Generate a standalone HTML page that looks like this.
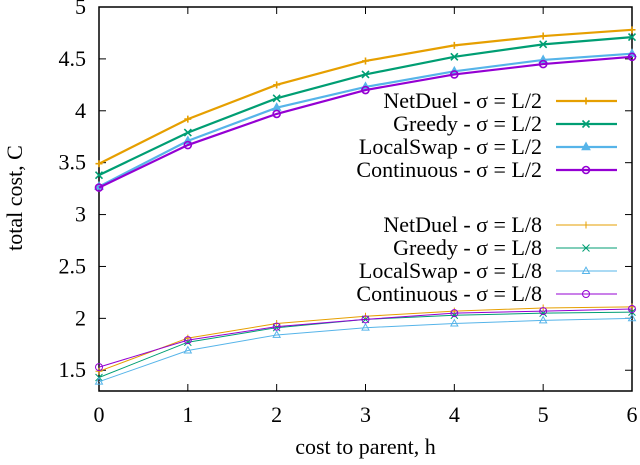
<!DOCTYPE html>
<html><head><meta charset="utf-8"><style>
body{margin:0;background:#fff}
svg{font-family:"Liberation Serif",serif}
</style></head><body>
<svg id="chart" width="640" height="460" xmlns="http://www.w3.org/2000/svg"></svg>
<script>
const xCats=[0,1,2,3,4,5,6];
const yTicks=[1.5,2,2.5,3,3.5,4,4.5,5];
const seriesNames=["NetDuel - σ = L/2","Greedy - σ = L/2","LocalSwap - σ = L/2","Continuous - σ = L/2","NetDuel - σ = L/8","Greedy - σ = L/8","LocalSwap - σ = L/8","Continuous - σ = L/8"];
const netduelL2=[3.49,3.92,4.25,4.48,4.63,4.72,4.78];
const greedyL2=[3.38,3.79,4.12,4.35,4.52,4.64,4.71];
const localswapL2=[3.27,3.71,4.03,4.23,4.38,4.49,4.55];
const continuousL2=[3.26,3.67,3.97,4.20,4.35,4.45,4.52];
const netduelL8=[1.49,1.81,1.95,2.02,2.07,2.10,2.11];
const greedyL8=[1.43,1.77,1.91,1.99,2.03,2.05,2.06];
const localswapL8=[1.39,1.69,1.84,1.91,1.95,1.98,2.00];
const continuousL8=[1.53,1.79,1.92,1.99,2.05,2.07,2.09];

const NS="http://www.w3.org/2000/svg";
const svg=document.getElementById('chart');
const L=99,R=632,T=7,B=391,ymin=1.3,ymax=5;
const sx=v=>L+(v-0)/6*(R-L);
const sy=v=>B-(v-ymin)/(ymax-ymin)*(B-T);
function mk(tag,attrs,parent){const e=document.createElementNS(NS,tag);for(const k in attrs)e.setAttribute(k,attrs[k]);(parent||svg).appendChild(e);return e;}

xCats.forEach(v=>{
  const x=sx(v);
  const t1=mk('line',{x1:x,x2:x,y1:B,y2:B-7,stroke:'#000','stroke-width':1});
  
  
  mk('line',{x1:x,x2:x,y1:T,y2:T+7,stroke:'#000','stroke-width':1});
  const tx=mk('text',{x:x,y:B+31,'font-size':22,'text-anchor':'middle'});
  tx.textContent=v;
  
  
});
yTicks.forEach(v=>{
  const y=sy(v);
  mk('line',{x1:L,x2:L+7,y1:y,y2:y,stroke:'#000','stroke-width':1});
  mk('line',{x1:R,x2:R-7,y1:y,y2:y,stroke:'#000','stroke-width':1});
  const tx=mk('text',{x:L-13,y:y+7,'font-size':22,'text-anchor':'end'});
  tx.textContent=v;
  
  
});
const frame=mk('rect',{x:L,y:T,width:R-L,height:B-T,fill:'none',stroke:'#000','stroke-width':1.5});



const xt=mk('text',{x:(L+R)/2,y:454,'font-size':22,'text-anchor':'middle'});
xt.textContent='cost to parent, h';


const yt=mk('text',{x:0,y:0,'font-size':22,'text-anchor':'middle',transform:'translate(22,198) rotate(-90)'});
yt.textContent='total cost, C';



function marker(type,x,y,color,sz,sw,g){
  if(type==='plus'){mk('path',{d:`M${x-sz},${y}H${x+sz}M${x},${y-sz}V${y+sz}`,stroke:color,'stroke-width':sw,fill:'none'},g);}
  else if(type==='x'){mk('path',{d:`M${x-sz},${y-sz}L${x+sz},${y+sz}M${x-sz},${y+sz}L${x+sz},${y-sz}`,stroke:color,'stroke-width':sw,fill:'none'},g);}
  else if(type==='tri'){mk('path',{d:`M${x},${y-sz*1.1}L${x+sz},${y+sz*0.7}L${x-sz},${y+sz*0.7}Z`,stroke:color,'stroke-width':sw,fill:g.dataset.fill==='1'?color:'none'},g);}
  else {mk('circle',{cx:x,cy:y,r:sz,stroke:color,'stroke-width':sw,fill:'none'},g);}
}
const series=[
 {vals:netduelL2,color:'#e69f00',m:'plus',w:2.2,fill:1},
 {vals:greedyL2,color:'#009e73',m:'x',w:2.2,fill:1},
 {vals:localswapL2,color:'#56b4e9',m:'tri',w:2.2,fill:1},
 {vals:continuousL2,color:'#9400d3',m:'circ',w:2.2,fill:1},
 {vals:netduelL8,color:'#e69f00',m:'plus',w:1,fill:0},
 {vals:greedyL8,color:'#009e73',m:'x',w:1,fill:0},
 {vals:localswapL8,color:'#56b4e9',m:'tri',w:1,fill:0},
 {vals:continuousL8,color:'#9400d3',m:'circ',w:1,fill:0},
];
const legY=[101,124,147,170,225,248,271,294];
series.forEach((s,i)=>{
  const g=mk('g',{});
  g.dataset.fill=s.fill?'1':'0';
  
  
  const pts=s.vals.map((v,j)=>sx(xCats[j])+','+sy(v)).join(' ');
  mk('polyline',{points:pts,fill:'none',stroke:s.color,'stroke-width':s.w},g);
  s.vals.forEach((v,j)=>marker(s.m,sx(xCats[j]),sy(v),s.color,3.5,s.w>1?1.6:1,g));
  const lg=mk('g',{});
  lg.dataset.fill=g.dataset.fill;
  
  
  const y=legY[i];
  const tx=mk('text',{x:542,y:y+7,'font-size':22,'text-anchor':'end'},lg);
  tx.textContent=seriesNames[i];
  mk('line',{x1:556,x2:617,y1:y,y2:y,stroke:s.color,'stroke-width':s.w},lg);
  marker(s.m,586,y,s.color,3.5,s.w>1?1.6:1,lg);
});
</script>
</body></html>
